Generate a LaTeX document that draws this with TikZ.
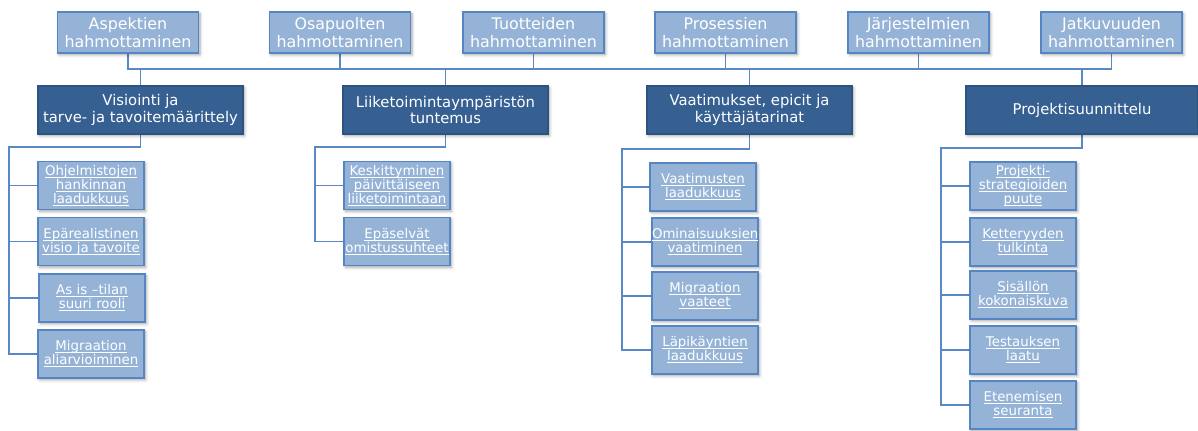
\documentclass[tikz,border=0pt]{standalone}
\usepackage{fontspec}
\setmainfont{DejaVu Sans}
\usetikzlibrary{shadows.blur,backgrounds}
\definecolor{lightbox}{HTML}{95B3D7}
\definecolor{lightedge}{HTML}{5585C2}
\definecolor{darkbox}{HTML}{376092}
\definecolor{darkedge}{HTML}{2D5480}
\definecolor{linkline}{HTML}{5A88C4}
% underline at a fixed depth below the baseline
\newcommand\ulw[1]{\leavevmode\setbox0\hbox{#1}\rlap{\rule[-1.8pt]{\wd0}{0.65pt}}\box0}
\begin{document}
\begin{tikzpicture}[x=0.75pt,y=-0.75pt,
  shade/.style={blur shadow={shadow xshift=1.2pt,shadow yshift=-1.4pt,shadow blur steps=6,shadow opacity=35}},
  topbox/.style={draw=lightedge,fill=lightbox,line width=1.1pt,text=white,align=center,
    minimum width=105.75pt,minimum height=30.75pt,inner sep=0pt,
    font=\fontsize{11.9}{13.5}\selectfont,shade},
  mainbox/.style={draw=darkedge,fill=darkbox,line width=1pt,text=white,align=center,
    minimum width=153.75pt,minimum height=36pt,inner sep=0pt,
    font=\fontsize{11.1}{12.2}\selectfont,shade},
  leafbox/.style={draw=lightedge,fill=lightbox,line width=1.1pt,text=white,align=center,
    text width=79.5pt,minimum height=36pt,inner sep=0pt,
    font=\fontsize{10}{10.6}\selectfont,shade},
  conn/.style={draw=linkline,line width=1.1pt}]
\useasboundingbox (0,0) rectangle (1198,430);

% top row
\node[topbox] (asp) at (128,32.5)   {Aspektien\\hahmottaminen};
\node[topbox] (osa) at (340,32.5)   {Osapuolten\\hahmottaminen};
\node[topbox] (tuo) at (533.5,32.5) {Tuotteiden\\hahmottaminen};
\node[topbox] (pro) at (725.5,32.5) {Prosessien\\hahmottaminen};
\node[topbox] (jar) at (918.5,32.5) {Järjestelmien\\hahmottaminen};
\node[topbox] (jat) at (1111.5,32.5){Jatkuvuuden\\hahmottaminen};

% second row
\node[mainbox] (vis) at (140.5,110) {Visiointi ja\\tarve- ja tavoitemäärittely};
\node[mainbox] (lii) at (445.5,110) {Liiketoimintaympäristön\\tuntemus};
\node[mainbox] (vaa) at (749.5,110) {Vaatimukset, epicit ja\\käyttäjätarinat};
\node[mainbox,minimum width=174pt] (prj) at (1082,110) {Projektisuunnittelu};

% leaves
\node[leafbox] (v1) at (91,185.5)  {\ulw{Ohjelmistojen}\\\ulw{hankinnan}\\\ulw{laadukkuus}};
\node[leafbox] (v2) at (91,241.5)  {\ulw{Epärealistinen}\\\ulw{visio ja tavoite}};
\node[leafbox] (v3) at (92,298)    {\ulw{As is –tilan}\\\ulw{suuri rooli}};
\node[leafbox] (v4) at (91,354)    {\ulw{Migraation}\\\ulw{aliarvioiminen}};

\node[leafbox] (l1) at (397,185.5) {\ulw{Keskittyminen}\\\ulw{päivittäiseen}\\\ulw{liiketoimintaan}};
\node[leafbox] (l2) at (397,241.5) {\ulw{Epäselvät}\\\ulw{omistussuhteet}};

\node[leafbox] (q1) at (703,187)   {\ulw{Vaatimusten}\\\ulw{laadukkuus}};
\node[leafbox] (q2) at (705,242)   {\ulw{Ominaisuuksien}\\\ulw{vaatiminen}};
\node[leafbox] (q3) at (705,296)   {\ulw{Migraation}\\\ulw{vaateet}};
\node[leafbox] (q4) at (705,350)   {\ulw{Läpikäyntien}\\\ulw{laadukkuus}};

\node[leafbox] (p1) at (1023,186)  {\ulw{Projekti-}\\\ulw{strategioiden}\\\ulw{puute}};
\node[leafbox] (p2) at (1023,242)  {\ulw{Ketteryyden}\\\ulw{tulkinta}};
\node[leafbox] (p3) at (1023,295)  {\ulw{Sisällön}\\\ulw{kokonaiskuva}};
\node[leafbox] (p4) at (1023,350)  {\ulw{Testauksen}\\\ulw{laatu}};
\node[leafbox] (p5) at (1023,405)  {\ulw{Etenemisen}\\\ulw{seuranta}};

\begin{scope}[on background layer]
% bus between the rows
\coordinate (bus) at (0,69);
\draw[conn] (asp.south) -- (asp.south |- bus) -- (jat.south |- bus) -- (jat.south);
\foreach \n in {osa,tuo,pro,jar} \draw[conn] (\n.south) -- (\n.south |- bus);
\foreach \n in {vis,lii,vaa,prj} \draw[conn] (\n.north |- bus) -- (\n.north);

% brackets to the leaves
\coordinate (vb) at (9,147);
\draw[conn] (vis.south) |- (vb) |- (v4.west);
\foreach \n in {v1,v2,v3} \draw[conn] (vb |- \n.west) -- (\n.west);

\coordinate (lb) at (315,147);
\draw[conn] (lii.south) |- (lb) |- (l2.west);
\draw[conn] (lb |- l1.west) -- (l1.west);

\coordinate (qb) at (622,149);
\draw[conn] (vaa.south) |- (qb) |- (q4.west);
\foreach \n in {q1,q2,q3} \draw[conn] (qb |- \n.west) -- (\n.west);

\coordinate (pb) at (941,148);
\draw[conn] (prj.south) |- (pb) |- (p5.west);
\foreach \n in {p1,p2,p3,p4} \draw[conn] (pb |- \n.west) -- (\n.west);
\end{scope}
\end{tikzpicture}
\end{document}
